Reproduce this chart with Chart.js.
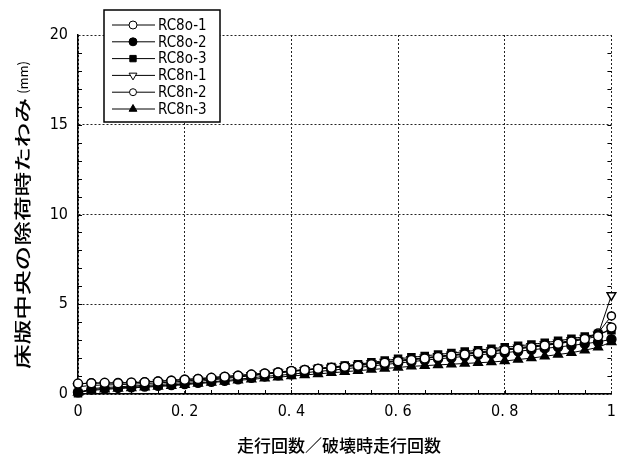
<!DOCTYPE html>
<html>
<head>
<meta charset="utf-8">
<script src="https://cdn.jsdelivr.net/npm/chart.js@4"></script>
<style>
  body { margin: 0; background: #fff; }
  #wrap { width: 624px; height: 459px; }
</style>
</head>
<body>
<div id="wrap"><canvas id="deflectionChart" width="624" height="459"></canvas></div>
<script>
// 走行回数比 (走行回数／破壊時走行回数)
const runRatio = [0, 0.025, 0.05, 0.075, 0.1, 0.125, 0.15, 0.175, 0.2, 0.225, 0.25, 0.275, 0.3, 0.325, 0.35, 0.375,
    0.4, 0.425, 0.45, 0.475, 0.5, 0.525, 0.55, 0.575, 0.6, 0.625, 0.65, 0.675, 0.7, 0.725, 0.75, 0.775,
    0.8, 0.825, 0.85, 0.875, 0.9, 0.925, 0.95, 0.975, 1];

// 除荷時たわみ (mm)
const rc8o1 = [0.58, 0.6, 0.62, 0.6, 0.64, 0.66, 0.7, 0.74, 0.8, 0.84, 0.9, 0.96, 1.02, 1.08, 1.14, 1.2,
    1.28, 1.34, 1.4, 1.46, 1.52, 1.58, 1.66, 1.74, 1.82, 1.9, 1.98, 2.06, 2.14, 2.2, 2.28, 2.36,
    2.44, 2.52, 2.6, 2.7, 2.8, 2.92, 3.06, 3.22, 3.7];
const rc8o2 = [0.1, 0.25, 0.3, 0.34, 0.38, 0.42, 0.46, 0.5, 0.56, 0.62, 0.68, 0.74, 0.82, 0.9, 0.98, 1.04,
    1.1, 1.18, 1.26, 1.32, 1.4, 1.48, 1.56, 1.64, 1.72, 1.8, 1.88, 1.96, 2.02, 2.1, 2.18, 2.24,
    2.3, 2.38, 2.46, 2.54, 2.62, 2.7, 2.8, 2.9, 3.05];
const rc8o3 = [0.05, 0.3, 0.36, 0.4, 0.44, 0.48, 0.52, 0.58, 0.64, 0.7, 0.78, 0.86, 0.94, 1.02, 1.1, 1.18,
    1.26, 1.34, 1.42, 1.5, 1.58, 1.66, 1.76, 1.86, 1.96, 2.04, 2.12, 2.2, 2.28, 2.36, 2.44, 2.52,
    2.6, 2.68, 2.76, 2.86, 2.96, 3.08, 3.2, 3.34, 3.55];
const rc8n1 = [0.4, 0.48, 0.5, 0.52, 0.55, 0.58, 0.62, 0.66, 0.72, 0.78, 0.84, 0.9, 0.98, 1.04, 1.12, 1.18,
    1.26, 1.32, 1.4, 1.46, 1.54, 1.62, 1.7, 1.78, 1.86, 1.94, 2.02, 2.1, 2.18, 2.26, 2.34, 2.42,
    2.5, 2.58, 2.66, 2.76, 2.86, 2.98, 3.12, 3.3, 5.5];
const rc8n2 = [0.55, 0.62, 0.6, 0.64, 0.62, 0.68, 0.72, 0.76, 0.82, 0.86, 0.92, 0.98, 1.04, 1.1, 1.16, 1.22,
    1.3, 1.36, 1.42, 1.48, 1.56, 1.62, 1.7, 1.78, 1.86, 1.94, 2.0, 2.08, 2.16, 2.24, 2.3, 2.38,
    2.46, 2.54, 2.62, 2.72, 2.82, 2.94, 3.08, 3.4, 4.35];
const rc8n3 = [0.08, 0.2, 0.26, 0.3, 0.34, 0.38, 0.42, 0.46, 0.52, 0.58, 0.64, 0.7, 0.76, 0.82, 0.88, 0.94,
    1.0, 1.06, 1.12, 1.18, 1.24, 1.3, 1.36, 1.42, 1.48, 1.54, 1.58, 1.62, 1.66, 1.7, 1.74, 1.78,
    1.84, 1.92, 2.0, 2.1, 2.2, 2.3, 2.44, 2.6, 2.9];

const seriesNames = ['RC8o-1', 'RC8o-2', 'RC8o-3', 'RC8n-1', 'RC8n-2', 'RC8n-3'];
const xTickLabels = ['0', '0. 2', '0. 4', '0. 6', '0. 8', '1'];
const yTickLabels = ['0', '5', '10', '15', '20'];

const xTitle = '走行回数／破壊時走行回数';
const yTitle = '床版中央の除荷時たわみ';
const yUnit = '(mm)';

const numFont = '"Liberation Sans Narrow", "DejaVu Sans Condensed", "Liberation Sans", sans-serif';
const jpFont = '"Noto Sans CJK JP", sans-serif';

function toPoints(values) {
    return values.map((v, i) => ({ x: runRatio[i], y: v }));
}

function makeSeries(label, values, style, fill, radius, rotation) {
    return {
        label: label,
        data: toPoints(values),
        borderColor: '#000',
        borderWidth: 1,
        pointStyle: style,
        pointRadius: radius,
        pointRotation: rotation || 0,
        pointBorderColor: '#000',
        pointBorderWidth: 1.5,
        pointBackgroundColor: fill,
        showLine: true,
        tension: 0,
        clip: 8
    };
}

// 目盛り（内向きの補助目盛り）
const minorTicks = {
    id: 'minorTicks',
    afterDatasetsDraw(chart) {
        const { ctx, chartArea: a, scales: { x, y } } = chart;
        ctx.save();
        ctx.strokeStyle = '#000';
        ctx.lineWidth = 1;
        ctx.beginPath();
        for (let k = 1; k < 20; k++) {
            const px = Math.round(x.getPixelForValue(k * 0.05)) + 0.5;
            ctx.moveTo(px, a.bottom);
            ctx.lineTo(px, a.bottom - 4);
        }
        for (let k = 1; k < 20; k++) {
            const py = Math.round(y.getPixelForValue(k)) + 0.5;
            ctx.moveTo(a.left, py);
            ctx.lineTo(a.left + 4, py);
            ctx.moveTo(a.right, py);
            ctx.lineTo(a.right - 4, py);
        }
        ctx.stroke();
        ctx.restore();
    }
};

// 軸タイトル
const axisTitles = {
    id: 'axisTitles',
    afterDraw(chart) {
        const ctx = chart.ctx;
        ctx.save();
        ctx.fillStyle = '#000';
        ctx.textBaseline = 'middle';

        ctx.font = '500 17px ' + jpFont;
        ctx.textAlign = 'center';
        ctx.fillText(xTitle, 339, 446);

        ctx.translate(23, 215);
        ctx.rotate(-Math.PI / 2);
        ctx.font = '500 17px ' + jpFont;
        const stretch = 1.45;
        const w1 = ctx.measureText(yTitle).width * stretch;
        ctx.font = '13px ' + jpFont;
        const w2 = ctx.measureText(yUnit).width;
        const start = -(w1 + 4 + w2) / 2;
        ctx.textAlign = 'left';
        ctx.fillText(yUnit, start + w1 + 4, 0);
        ctx.scale(stretch, 1);
        ctx.font = '500 17px ' + jpFont;
        ctx.fillText(yTitle, start / stretch, 0);
        ctx.restore();
    }
};

// 枠付き凡例
const boxLegend = {
    id: 'boxLegend',
    afterDraw(chart) {
        const ctx = chart.ctx;
        ctx.save();
        ctx.fillStyle = '#fff';
        ctx.fillRect(104, 10, 116, 112);
        ctx.strokeStyle = '#000';
        ctx.lineWidth = 1.5;
        ctx.strokeRect(104, 10, 116, 112);
        chart.data.datasets.forEach((ds, i) => {
            const y = 25 + i * 16.8;
            ctx.strokeStyle = '#000';
            ctx.lineWidth = 1;
            ctx.beginPath();
            ctx.moveTo(112, y);
            ctx.lineTo(155, y);
            ctx.stroke();
            ctx.fillStyle = ds.pointBackgroundColor;
            Chart.helpers.drawPoint(ctx, {
                pointStyle: ds.pointStyle,
                radius: ds.pointRadius - 0.5,
                rotation: ds.pointRotation,
                borderWidth: 1
            }, 133, y);
            ctx.fillStyle = '#000';
            ctx.font = '15px ' + numFont;
            ctx.textAlign = 'left';
            ctx.textBaseline = 'middle';
            ctx.fillText(ds.label, 158, y + 1);
        });
        ctx.restore();
    }
};

const chartConfig = {
    type: 'scatter',
    data: {
        datasets: [
            makeSeries(seriesNames[0], rc8o1, 'circle', '#fff', 4.5),
            makeSeries(seriesNames[1], rc8o2, 'circle', '#000', 4.5),
            makeSeries(seriesNames[2], rc8o3, 'rect', '#000', 5),
            makeSeries(seriesNames[3], rc8n1, 'triangle', '#fff', 5, 180),
            makeSeries(seriesNames[4], rc8n2, 'circle', '#fff', 4),
            makeSeries(seriesNames[5], rc8n3, 'triangle', '#000', 5)
        ]
    },
    options: {
        responsive: false,
        animation: false,
        layout: { padding: { top: 35, right: 12, left: 0, bottom: 0 } },
        plugins: {
            legend: { display: false },
            tooltip: { enabled: false }
        },
        scales: {
            x: {
                type: 'linear',
                min: 0,
                max: 1,
                ticks: {
                    stepSize: 0.2,
                    color: '#000',
                    padding: 8,
                    font: { family: numFont, size: 16 },
                    maxRotation: 0,
                    callback: (v) => xTickLabels[Math.round(v / 0.2)]
                },
                grid: { color: '#222', lineWidth: 1, drawTicks: false },
                border: { display: true, color: '#000', width: 1.5, dash: [2, 2] },
                afterFit: (s) => { s.height = 65; }
            },
            y: {
                type: 'linear',
                min: 0,
                max: 20,
                ticks: {
                    stepSize: 5,
                    color: '#000',
                    padding: 10,
                    font: { family: numFont, size: 16 },
                    callback: (v) => yTickLabels[Math.round(v / 5)]
                },
                grid: { color: '#222', lineWidth: 1, drawTicks: false },
                border: { display: true, color: '#000', width: 1.5, dash: [2, 2] },
                afterFit: (s) => { s.width = 78; }
            }
        }
    },
    plugins: [minorTicks, axisTitles, boxLegend]
};

function initializeChart() {
    const canvas = document.getElementById('deflectionChart');
    if (canvas) {
        new Chart(canvas.getContext('2d'), chartConfig);
    }
}

initializeChart();
</script>
</body>
</html>
